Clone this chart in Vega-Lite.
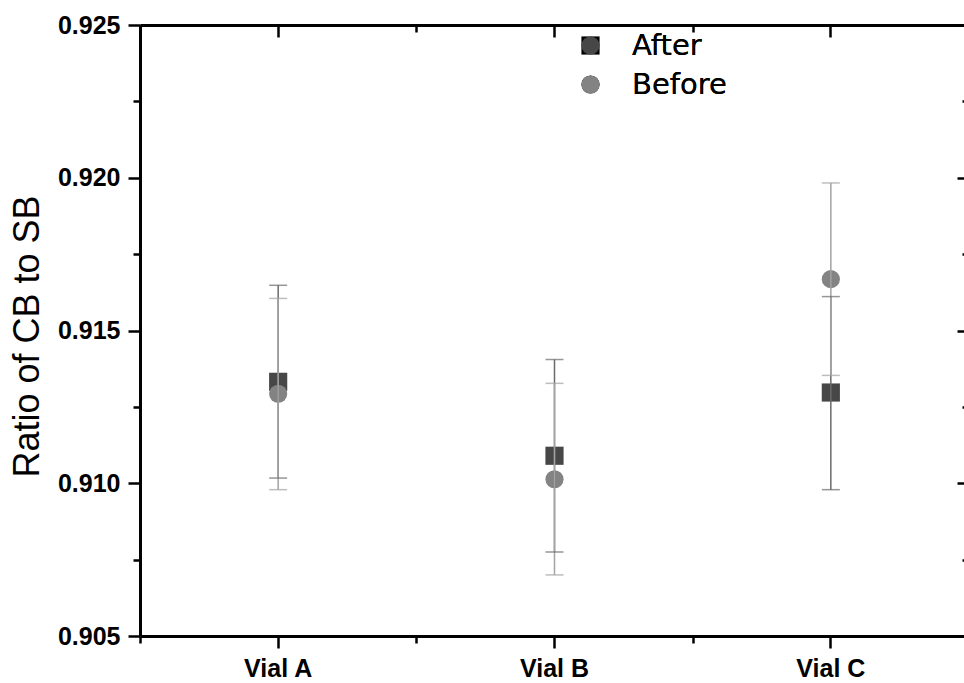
{
  "$schema": "https://vega.github.io/schema/vega-lite/v6.json",
  "width": 829,
  "height": 611,
  "autosize": {"type": "none"},
  "padding": {"left": 140, "top": 25, "right": -5, "bottom": 47},
  "background": "white",
  "config": {
    "view": {"stroke": null},
    "axis": {"domainColor": "black", "tickColor": "black", "labelColor": "black", "titleColor": "black", "grid": false}
  },
  "data": {
    "values": [
      {"vial": "Vial A", "series": "After", "value": 0.91332, "lo": 0.91017, "hi": 0.91648},
      {"vial": "Vial B", "series": "After", "value": 0.91090, "lo": 0.90775, "hi": 0.91405},
      {"vial": "Vial C", "series": "After", "value": 0.91297, "lo": 0.90979, "hi": 0.91611},
      {"vial": "Vial A", "series": "Before", "value": 0.91293, "lo": 0.90979, "hi": 0.91605},
      {"vial": "Vial B", "series": "Before", "value": 0.91013, "lo": 0.90700, "hi": 0.91327},
      {"vial": "Vial C", "series": "Before", "value": 0.91668, "lo": 0.91353, "hi": 0.91983}
    ]
  },
  "resolve": {"axis": {"x": "independent", "y": "independent"}, "scale": {"color": "independent"}},
  "layer": [
    {
      "mark": {"type": "point", "filled": true, "opacity": 1, "size": 330},
      "encoding": {
        "x": {"field": "vial", "type": "nominal",
          "scale": {"type": "band", "paddingInner": 0, "paddingOuter": 0},
          "axis": {"orient": "bottom", "title": null, "labelAngle": 0, "tickBand": "center", "tickSize": 12, "tickWidth": 2.5, "domainWidth": 3,
            "labelFont": "Liberation Sans", "labelFontWeight": "bold", "labelFontSize": 25, "labelPadding": 8}},
        "y": {"field": "value", "type": "quantitative",
          "scale": {"domain": [0.905, 0.925], "nice": false, "zero": false},
          "axis": {"orient": "left", "values": [0.905, 0.91, 0.915, 0.92, 0.925], "format": ".3f", "tickSize": 12, "tickWidth": 2.5, "domainWidth": 3,
            "labelFont": "Liberation Sans", "labelFontWeight": "bold", "labelFontSize": 25, "labelPadding": 8,
            "title": "Ratio of CB to SB", "titleFont": "Liberation Sans", "titleFontWeight": "normal", "titleFontSize": 36,
            "titleAngle": -90, "titleX": -113, "titleY": 311, "titleAlign": "center", "titleBaseline": "middle"}},
        "color": {"field": "series", "type": "nominal",
          "scale": {"domain": ["After", "Before"], "range": ["#474747", "#838383"]},
          "legend": {"title": null, "orient": "none", "legendX": 436, "legendY": 6, "labelFont": "DejaVu Sans", "labelFontSize": 29, "labelColor": "black",
            "symbolSize": 330, "labelOffset": 27, "rowPadding": 9, "symbolOpacity": 1, "symbolStrokeWidth": 0,
            "encode": {"symbols": {"update": {"strokeWidth": {"value": 0}, "stroke": {"value": "transparent"}}}}}},
        "shape": {"field": "series", "type": "nominal",
          "scale": {"domain": ["After", "Before"], "range": ["square", "circle"]},
          "legend": {"title": null, "orient": "none", "legendX": 436, "legendY": 6, "labelFont": "DejaVu Sans", "labelFontSize": 29, "labelColor": "black",
            "symbolSize": 330, "labelOffset": 27, "rowPadding": 9, "symbolOpacity": 1, "symbolStrokeWidth": 0,
            "encode": {"symbols": {"update": {"strokeWidth": {"value": 0}, "stroke": {"value": "transparent"}}}}}}
      }
    },
    {
      "mark": {"type": "rule", "strokeWidth": 1.5},
      "encoding": {
        "x": {"field": "vial", "type": "nominal",
          "axis": {"orient": "bottom", "title": null, "labels": false, "domain": false, "tickBand": "extent", "tickSize": 7, "tickWidth": 2.5}},
        "y": {"field": "lo", "type": "quantitative",
          "axis": {"orient": "left", "title": null, "labels": false, "domain": false, "values": [0.9075, 0.9125, 0.9175, 0.9225], "tickSize": 7, "tickWidth": 2.5}},
        "y2": {"field": "hi"},
        "color": {"field": "series", "type": "nominal",
          "scale": {"domain": ["After", "Before"], "range": ["#6a6a6a", "#a3a3a3"]}, "legend": null}
      }
    },
    {
      "mark": {"type": "tick", "size": 18, "thickness": 1.5},
      "encoding": {
        "x": {"field": "vial", "type": "nominal",
          "axis": {"orient": "top", "title": null, "labels": false, "domainWidth": 3, "tickBand": "center", "tickSize": -12, "tickWidth": 2.5}},
        "y": {"field": "hi", "type": "quantitative",
          "axis": {"orient": "right", "title": null, "labels": false, "domainWidth": 3, "values": [0.905, 0.91, 0.915, 0.92, 0.925], "tickSize": -12, "tickWidth": 2.5}},
        "color": {"field": "series", "type": "nominal",
          "scale": {"domain": ["After", "Before"], "range": ["#6a6a6a", "#a3a3a3"]}, "legend": null}
      }
    },
    {
      "mark": {"type": "tick", "size": 18, "thickness": 1.5},
      "encoding": {
        "x": {"field": "vial", "type": "nominal",
          "axis": {"orient": "top", "title": null, "labels": false, "domain": false, "tickBand": "extent", "tickSize": -7, "tickWidth": 2.5}},
        "y": {"field": "lo", "type": "quantitative",
          "axis": {"orient": "right", "title": null, "labels": false, "domain": false, "values": [0.9075, 0.9125, 0.9175, 0.9225], "tickSize": -7, "tickWidth": 2.5}},
        "color": {"field": "series", "type": "nominal",
          "scale": {"domain": ["After", "Before"], "range": ["#6a6a6a", "#a3a3a3"]}, "legend": null}
      }
    }
  ]
}
